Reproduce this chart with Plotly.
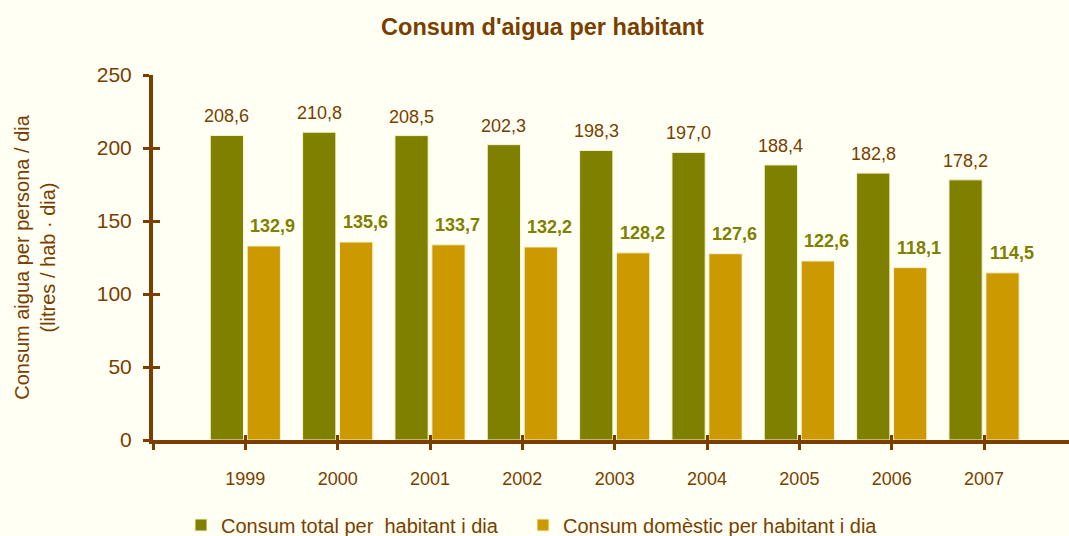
import plotly.graph_objects as go

years = ["1999", "2000", "2001", "2002", "2003", "2004", "2005", "2006", "2007"]
total = [208.6, 210.8, 208.5, 202.3, 198.3, 197.0, 188.4, 182.8, 178.2]
domestic = [132.9, 135.6, 133.7, 132.2, 128.2, 127.6, 122.6, 118.1, 114.5]
series_names = ["Consum total per\u00a0 habitant i dia", "Consum domèstic per habitant i dia"]
y_ticks = [0, 50, 100, 150, 200, 250]

BROWN = "#7A3E00"
OLIVE = "#808000"
GOLD = "#CC9900"
BG = "#FFFFF3"
FONT = "Liberation Sans, Arial, sans-serif"

def fmt(v):
    return f"{v:.1f}".replace(".", ",")

xs = list(range(len(years)))

fig = go.Figure()
fig.add_trace(go.Bar(x=xs, y=total, name=series_names[0], legend="legend",
                     marker=dict(color=OLIVE, line=dict(color="#F4F4D0", width=1))))
fig.add_trace(go.Bar(x=xs, y=domestic, name=series_names[1], legend="legend2",
                     marker=dict(color=GOLD, line=dict(color="#F4F4D0", width=1))))

annotations = []
for i, v in enumerate(total):
    annotations.append(dict(x=i - 0.2, y=v, xref="x", yref="y", text=fmt(v), showarrow=False,
                            yanchor="bottom", yshift=7,
                            font=dict(family=FONT, size=18, color=BROWN)))
for i, v in enumerate(domestic):
    annotations.append(dict(x=i + 0.2, y=v, xref="x", yref="y", text=fmt(v), showarrow=False,
                            yanchor="bottom", yshift=8, xshift=9,
                            font=dict(family=FONT, size=18, color=OLIVE, weight="bold")))

tickvals_x = [-1] + xs
ticktext_x = [""] + years

legend_common = dict(orientation="h", xanchor="left", xref="container",
                     y=(536 - 525) / 536, yanchor="middle", yref="container",
                     font=dict(family=FONT, size=20, color=BROWN), bgcolor="rgba(0,0,0,0)",
                     itemwidth=30)

fig.update_layout(
    width=1069, height=536,
    paper_bgcolor=BG, plot_bgcolor=BG,
    margin=dict(l=153, r=0, t=75, b=96, autoexpand=False),
    barmode="group", bargap=0.2, bargroupgap=0.1,
    font=dict(family=FONT, color=BROWN),
    title=dict(text="<b>Consum d'aigua per habitant</b>", x=542.5 / 1069, xanchor="center",
               y=1 - 27 / 536, yanchor="middle", yref="container",
               font=dict(family=FONT, size=23.5, color=BROWN)),
    showlegend=True,
    legend=dict(x=181 / 1069, **legend_common),
    legend2=dict(x=523 / 1069, **legend_common),
    annotations=annotations,
    xaxis=dict(range=[-1, 8.92], tickmode="array", tickvals=tickvals_x, ticktext=ticktext_x,
               showgrid=False, zeroline=False, showline=True, linecolor=BROWN, linewidth=4,
               ticks="outside", ticklen=6, tickwidth=3, tickcolor=BROWN,
               ticklabelstandoff=13,
               tickfont=dict(family=FONT, size=18, color=BROWN)),
    xaxis2=dict(range=[-1, 8.92], overlaying="x", matches="x", tickmode="array", tickvals=tickvals_x,
                showticklabels=False, showgrid=False, zeroline=False, showline=False,
                ticks="inside", ticklen=5, tickwidth=3, tickcolor=BROWN, side="bottom"),
    yaxis=dict(range=[0, 250], tickmode="array", tickvals=y_ticks,
               showgrid=False, zeroline=False, showline=True, linecolor=BROWN, linewidth=4,
               ticks="outside", ticklen=6, tickwidth=3, tickcolor=BROWN,
               ticklabelstandoff=7,
               tickfont=dict(family=FONT, size=21, color=BROWN),
               title=dict(text="Consum aigua per persona / dia<br>(litres / hab · dia)",
                          standoff=37, font=dict(family=FONT, size=20, color=BROWN))),
    yaxis2=dict(range=[0, 250], overlaying="y", matches="y", tickmode="array", tickvals=y_ticks,
                showticklabels=False, showgrid=False, zeroline=False, showline=False,
                ticks="inside", ticklen=7, tickwidth=3, tickcolor=BROWN, side="left"),
)
# invisible trace to activate secondary axes
fig.add_trace(go.Scatter(x=[None], y=[None], xaxis="x2", yaxis="y2", showlegend=False, hoverinfo="skip"))

fig.write_html("out.html", config={"displayModeBar": False},
               post_script="document.body.style.margin='0';")
